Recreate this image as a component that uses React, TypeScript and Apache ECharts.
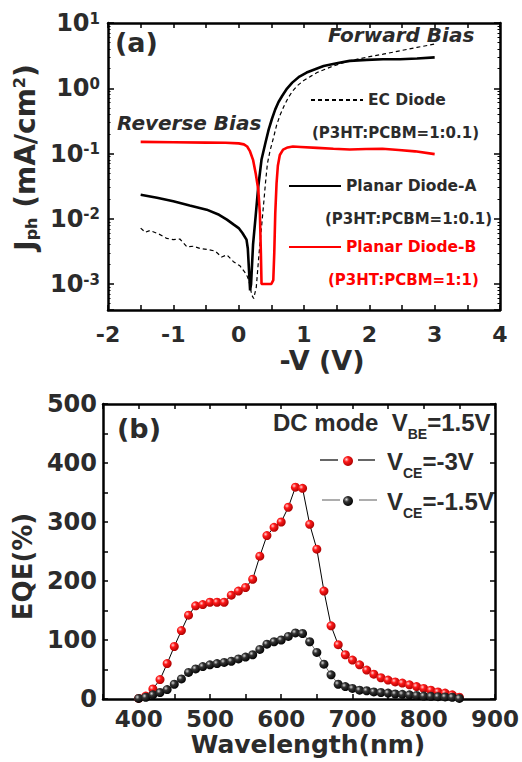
import React, { useEffect, useRef } from 'react';
import * as echarts from 'echarts';

// ---------- Data: panel (a) photocurrent density vs -V ----------
const ecDiode: [number, number][] = [
  [-1.5, 0.0072], [-1.43, 0.0062], [-1.36, 0.0066], [-1.23, 0.0059], [-1.1, 0.005], [-1.0, 0.0048],
  [-0.9, 0.0049], [-0.79, 0.0037], [-0.69, 0.0038], [-0.59, 0.0035], [-0.49, 0.0034], [-0.36, 0.0032],
  [-0.26, 0.0026], [-0.18, 0.0028], [-0.08, 0.0022], [0.02, 0.0019], [0.12, 0.0014], [0.16, 0.0011],
  [0.2, 0.00068], [0.23, 0.0006], [0.27, 0.0009], [0.31, 0.0028], [0.35, 0.0075], [0.38, 0.016],
  [0.41, 0.035], [0.44, 0.07], [0.48, 0.11], [0.53, 0.17], [0.58, 0.27], [0.63, 0.38], [0.7, 0.55],
  [0.76, 0.72], [0.83, 0.92], [0.9, 1.1], [0.99, 1.3], [1.1, 1.52], [1.2, 1.74], [1.33, 1.97],
  [1.45, 2.2], [1.58, 2.42], [1.7, 2.63], [1.95, 2.98], [2.21, 3.33], [2.47, 3.75], [2.73, 4.23], [3.0, 4.75],
];
const planarA: [number, number][] = [
  [-1.5, 0.0234], [-1.25, 0.021], [-1.0, 0.0185], [-0.75, 0.016], [-0.49, 0.0138], [-0.3, 0.0115],
  [-0.18, 0.0097], [-0.08, 0.0082], [0.0, 0.0072], [0.06, 0.006], [0.12, 0.0048], [0.14, 0.0035],
  [0.175, 0.0008], [0.19, 0.001], [0.22, 0.004], [0.26, 0.011], [0.3, 0.031], [0.35, 0.081],
  [0.41, 0.146], [0.46, 0.234], [0.51, 0.341], [0.56, 0.475], [0.61, 0.616], [0.665, 0.762],
  [0.74, 0.99], [0.82, 1.22], [0.93, 1.51], [1.04, 1.74], [1.17, 1.96], [1.3, 2.2], [1.5, 2.42],
  [1.7, 2.63], [1.96, 2.72], [2.21, 2.79], [2.47, 2.79], [2.73, 2.86], [3.0, 2.97],
];
const planarB: [number, number][] = [
  [-1.5, 0.151], [-1.0, 0.149], [-0.5, 0.147], [-0.2, 0.146], [0.0, 0.143], [0.08, 0.138],
  [0.13, 0.128], [0.17, 0.11], [0.22, 0.08], [0.26, 0.05], [0.3, 0.028], [0.325, 0.012],
  [0.34, 0.003], [0.35, 0.001], [0.5, 0.001], [0.53, 0.00115], [0.545, 0.003], [0.56, 0.012],
  [0.58, 0.035], [0.6, 0.065], [0.63, 0.095], [0.68, 0.115], [0.75, 0.124], [0.83, 0.128],
  [0.95, 0.126], [1.2, 0.122], [1.45, 0.118], [1.7, 0.115], [1.95, 0.117], [2.2, 0.118],
  [2.45, 0.113], [2.7, 0.108], [3.0, 0.098],
];

// ---------- Data: panel (b) EQE vs wavelength ----------
const wavelengths = [
  400, 410, 420, 430, 440, 450, 460, 470, 480, 490, 500, 510, 520, 530, 540, 550, 560, 570, 580, 590,
  600, 610, 620, 630, 640, 650, 660, 670, 680, 690, 700, 710, 720, 730, 740, 750, 760, 770, 780, 790,
  800, 810, 820, 830, 840, 850,
];
const eqeVce3 = [
  1, 5, 17, 33, 60, 89, 116, 142, 158, 160, 164, 164, 164, 176, 183, 189, 203, 242, 277, 291,
  300, 325, 359, 357, 296, 254, 183, 124, 92, 75, 66, 58, 49, 42, 36, 32, 29, 27, 24, 21,
  18, 15, 12, 10, 7, 3,
];
const eqeVce15 = [
  1, 3, 7, 11, 16, 25, 34, 45, 51, 55, 58, 60, 62, 64, 68, 71, 75, 84, 93, 97,
  100, 106, 112, 111, 97, 79, 59, 41, 25, 21, 18, 15, 14, 12, 11, 10, 8.5, 8, 7, 6,
  5, 4.5, 4, 3.5, 3, 1,
];

const xTicksA = [-2, -1, 0, 1, 2, 3, 4];
const yDecadesA = [-3, -2, -1, 0, 1];

const FONT = "'DejaVu Sans', 'Liberation Sans', Arial, sans-serif";
const ARIAL = "'Liberation Sans', Arial, sans-serif";
const TEXT = '#2b2b2b';
const RED = '#ff0000';

export default function App() {
  const ref = useRef<HTMLDivElement>(null);

  useEffect(() => {
    document.body.style.margin = '0';
    if (!ref.current) return;
    const chart = echarts.init(ref.current, undefined, { renderer: 'svg' });

    const bold = { fontWeight: 'bold' as const, fontFamily: FONT, color: TEXT };
    const boldA = { fontWeight: 'bold' as const, fontFamily: ARIAL, color: TEXT };
    const axisLine = { show: true, onZero: false, lineStyle: { color: '#000', width: 2.5 } };
    const tick = { show: true, inside: true, length: 5, lineStyle: { color: '#000', width: 1.5 } };

    const ball = (c0: string, c1: string, c2: string) =>
      new echarts.graphic.RadialGradient(0.35, 0.35, 0.7, [
        { offset: 0, color: c0 },
        { offset: 0.35, color: c1 },
        { offset: 1, color: c2 },
      ]);
    const redBall = ball('#ffd6d6', '#ff1a1a', '#a80000');
    const blackBall = ball('#d8d8d8', '#333333', '#000000');

    const topLegend = (name: string, left: number, top: number, color: string) => ({
      data: [name], left, top, padding: 0, itemWidth: 52, itemHeight: 14, selectedMode: false,
      itemStyle: { opacity: 0, borderWidth: 0 },
      textStyle: { fontSize: 15.5, ...bold, color },
    });
    const vceRich = {
      f: { fontSize: 24, ...boldA, lineHeight: 38, padding: [0, 0, 0, 29] },
      v: { fontSize: 24, ...boldA, lineHeight: 38 },
      s: { fontSize: 14, ...boldA, lineHeight: 16, verticalAlign: 'bottom' },
    };
    const vceLegend = (name: string, top: number) => ({
      data: [name], left: 343, top, padding: 0, icon: 'circle', itemWidth: 10, itemHeight: 10,
      selectedMode: false,
      formatter: (n: string) => `{f|V}{s|CE}{v|${n.slice(3)}}`,
      textStyle: { rich: vceRich },
    });
    const legendDash = (x1: number, x2: number, y: number, color: string) => ({
      type: 'line', shape: { x1, y1: y, x2, y2: y }, style: { stroke: color, lineWidth: 1.2 },
    });

    const option: any = {
      animation: false,
      backgroundColor: '#fff',
      grid: [
        { left: 108, top: 23, width: 392, height: 287 },
        { left: 103, top: 404, width: 396, height: 295 },
      ],
      xAxis: [
        {
          type: 'value', gridIndex: 0, position: 'bottom', min: -2, max: 4, interval: 0.5,
          axisLine, axisTick: tick, splitLine: { show: false },
          axisLabel: {
            margin: 13, fontSize: 22, ...bold,
            formatter: (v: number) => (xTicksA.includes(v) ? String(v) : ''),
          },
          name: '-V (V)', nameLocation: 'middle', nameGap: 37,
          nameTextStyle: { fontSize: 27, ...bold, padding: [0, 0, 0, 36] },
        },
        {
          type: 'value', gridIndex: 0, position: 'top', min: -2, max: 4, interval: 0.5,
          axisLine, axisTick: tick, axisLabel: { show: false }, splitLine: { show: false },
        },
        {
          type: 'value', gridIndex: 1, position: 'bottom', min: 350, max: 900, interval: 50,
          axisLine, axisTick: tick, splitLine: { show: false },
          axisLabel: {
            margin: 8, fontSize: 23, ...bold,
            formatter: (v: number) => (v % 100 === 0 ? String(v) : ''),
          },
          name: 'Wavelength(nm)', nameLocation: 'middle', nameGap: 33,
          nameTextStyle: { fontSize: 25, ...bold, padding: [0, 0, 0, 18] },
        },
        {
          type: 'value', gridIndex: 1, position: 'top', min: 350, max: 900, interval: 50,
          axisLine, axisTick: tick, axisLabel: { show: false }, splitLine: { show: false },
        },
      ],
      yAxis: [
        {
          type: 'log', logBase: 10, gridIndex: 0, position: 'left', min: 0.0004, max: 10,
          axisLine, axisTick: { ...tick, length: 6 },
          minorTick: { show: true, splitNumber: 9, length: 2.5, lineStyle: { color: '#000', width: 1 } },
          splitLine: { show: false },
          axisLabel: {
            margin: 8,
            formatter: (v: number) => {
              const e = Math.round(Math.log10(v));
              if (!yDecadesA.includes(e) || Math.abs(Math.log10(v) - e) > 1e-6) return '';
              return `{b|10}{s|${e}}`;
            },
            rich: {
              b: { fontSize: 24, ...bold },
              s: { fontSize: 15, ...bold, verticalAlign: 'top' },
            },
          },
          name: '{a|J}{b|ph}{a| (mA/cm}{c|2}{a|)}', nameLocation: 'middle', nameRotate: 90, nameGap: 57,
          nameTextStyle: {
            padding: [0, 0, 0, 18],
            rich: {
              a: { fontSize: 28, ...bold },
              b: { fontSize: 16, ...bold, verticalAlign: 'bottom' },
              c: { fontSize: 16, ...bold, verticalAlign: 'top' },
            },
          },
        },
        {
          type: 'log', logBase: 10, gridIndex: 0, position: 'right', min: 0.0004, max: 10,
          axisLine, axisTick: { ...tick, length: 6 },
          minorTick: { show: true, splitNumber: 9, length: 2.5, lineStyle: { color: '#000', width: 1 } },
          axisLabel: { show: false }, splitLine: { show: false },
        },
        {
          type: 'value', gridIndex: 1, position: 'left', min: 0, max: 500, interval: 50,
          axisLine, axisTick: tick, splitLine: { show: false },
          axisLabel: {
            margin: 6, fontSize: 24, ...bold,
            formatter: (v: number) => (v % 100 === 0 ? String(v) : ''),
          },
          name: 'EQE(%)', nameLocation: 'middle', nameRotate: 90, nameGap: 64,
          nameTextStyle: { fontSize: 26, ...bold, padding: [0, 30, 0, 0] },
        },
        {
          type: 'value', gridIndex: 1, position: 'right', min: 0, max: 500, interval: 50,
          axisLine, axisTick: tick, axisLabel: { show: false }, splitLine: { show: false },
        },
      ],
      legend: [
        topLegend('EC Diode', 310, 92, TEXT),
        topLegend('Planar Diode-A', 288, 178, TEXT),
        topLegend('Planar Diode-B', 288, 239, RED),
        vceLegend('VCE=-3V', 449),
        vceLegend('VCE=-1.5V', 489),
      ],
      graphic: [
        { type: 'text', x: 115, y: 42, style: { text: '(a)', fontSize: 27, fontWeight: 'bold', fontFamily: FONT, fill: TEXT, textVerticalAlign: 'middle' } },
        { type: 'text', x: 328, y: 35, style: { text: 'Forward Bias', fontSize: 20, fontWeight: 'bold', fontStyle: 'italic', fontFamily: FONT, fill: TEXT, textVerticalAlign: 'middle' } },
        { type: 'text', x: 117, y: 123, style: { text: 'Reverse Bias', fontSize: 20, fontWeight: 'bold', fontStyle: 'italic', fontFamily: FONT, fill: TEXT, textVerticalAlign: 'middle' } },
        { type: 'text', x: 312, y: 133, style: { text: '(P3HT:PCBM=1:0.1)', fontSize: 15, fontWeight: 'bold', fontFamily: FONT, fill: TEXT, textVerticalAlign: 'middle' } },
        { type: 'text', x: 325, y: 219, style: { text: '(P3HT:PCBM=1:0.1)', fontSize: 15, fontWeight: 'bold', fontFamily: FONT, fill: TEXT, textVerticalAlign: 'middle' } },
        { type: 'text', x: 328, y: 280, style: { text: '(P3HT:PCBM=1:1)', fontSize: 15, fontWeight: 'bold', fontFamily: FONT, fill: RED, textVerticalAlign: 'middle' } },
        { type: 'text', x: 117, y: 428, style: { text: '(b)', fontSize: 27, fontWeight: 'bold', fontFamily: FONT, fill: TEXT, textVerticalAlign: 'middle' } },
        {
          type: 'text', x: 273, y: 422,
          style: {
            text: '{m|DC mode  V}{s|BE}{m|=1.5V}', textVerticalAlign: 'middle',
            rich: {
              m: { fontSize: 24, fontWeight: 'bold', fontFamily: ARIAL, fill: TEXT, lineHeight: 38 },
              s: { fontSize: 14, fontWeight: 'bold', fontFamily: ARIAL, fill: TEXT, lineHeight: 16, verticalAlign: 'bottom' },
            },
          },
        },
        legendDash(320, 338, 460, '#000'),
        legendDash(358, 375, 460, '#000'),
        legendDash(322, 340, 500, '#777'),
        legendDash(359, 377, 500, '#777'),
      ],
      series: [
        {
          name: 'EC Diode', type: 'line', xAxisIndex: 0, yAxisIndex: 0, data: ecDiode,
          symbol: 'none', lineStyle: { color: '#000', width: 1.2, type: [4, 3] }, itemStyle: { color: '#000' },
        },
        {
          name: 'Planar Diode-A', type: 'line', xAxisIndex: 0, yAxisIndex: 0, data: planarA,
          symbol: 'none', lineStyle: { color: '#000', width: 2.6 }, itemStyle: { color: '#000' },
        },
        {
          name: 'Planar Diode-B', type: 'line', xAxisIndex: 0, yAxisIndex: 0, data: planarB,
          symbol: 'none', lineStyle: { color: RED, width: 2.6 }, itemStyle: { color: RED },
        },
        {
          name: 'VCE=-3V', type: 'line', xAxisIndex: 2, yAxisIndex: 2,
          data: wavelengths.map((w, i) => [w, eqeVce3[i]]),
          symbol: 'circle', symbolSize: 9, showSymbol: true,
          lineStyle: { color: '#000', width: 1 }, itemStyle: { color: redBall },
        },
        {
          name: 'VCE=-1.5V', type: 'line', xAxisIndex: 2, yAxisIndex: 2,
          data: wavelengths.map((w, i) => [w, eqeVce15[i]]),
          symbol: 'circle', symbolSize: 9, showSymbol: true,
          lineStyle: { color: '#777', width: 1 }, itemStyle: { color: blackBall },
        },
      ],
    };

    chart.setOption(option);
    return () => chart.dispose();
  }, []);

  return <div ref={ref} style={{ width: 522, height: 762 }} />;
}
